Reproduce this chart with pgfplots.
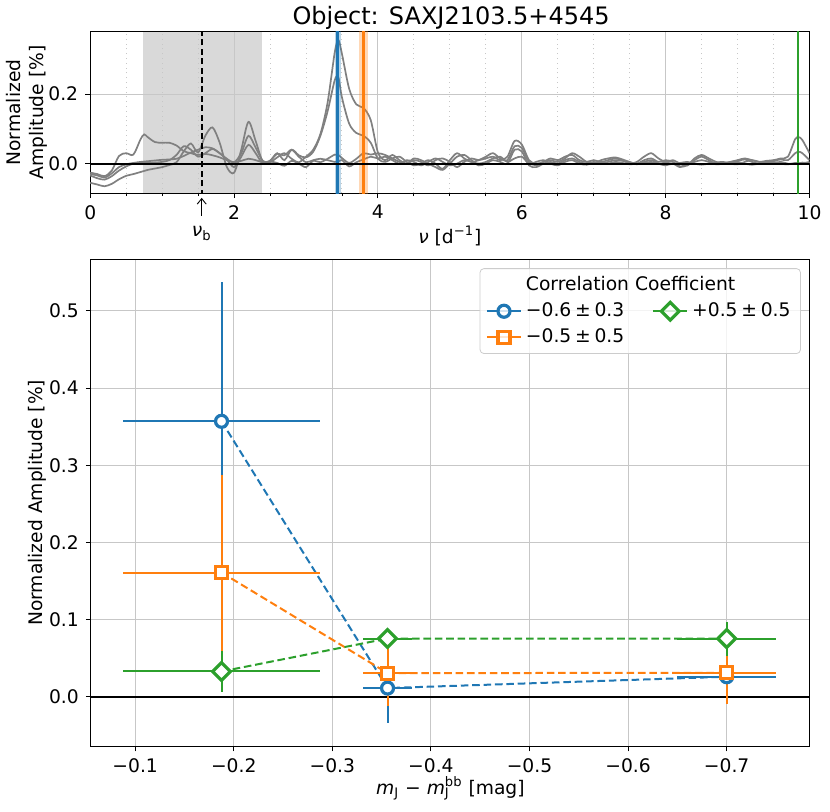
\documentclass[border=0pt]{standalone}
\usepackage{fontspec}
\setmainfont{DejaVu Sans}
\usepackage{pgfplots}
\pgfplotsset{compat=1.18}
\usepackage{pgfplotstable}
\usetikzlibrary{arrows.meta}
\definecolor{tabblue}{HTML}{1F77B4}
\definecolor{taborange}{HTML}{FF7F0E}
\definecolor{tabgreen}{HTML}{2CA02C}

\pgfplotstableread{
x A B C D
0.0 -0.030 -0.026 -0.055 -0.034
0.1 -0.034 -0.030 -0.060 -0.042
0.2 -0.040 -0.036 -0.065 -0.046
0.3 -0.028 -0.020 -0.058 -0.036
0.4 -0.010 0.022 -0.045 -0.020
0.5 -0.002 0.030 -0.035 -0.008
0.6 0.002 0.026 -0.030 0.000
0.7 0.005 0.070 -0.024 0.002
0.75 0.006 0.084 -0.021 0.002
0.8 0.007 0.076 -0.018 0.003
0.9 0.009 0.062 -0.014 0.003
1.0 0.011 0.060 -0.010 0.005
1.1 0.012 0.060 -0.004 0.010
1.2 0.014 0.052 0.004 0.025
1.3 0.022 0.036 0.035 0.050
1.4 0.032 0.030 0.058 0.040
1.5 0.040 0.025 0.032 0.020
1.6 0.047 0.028 0.080 0.030
1.7 0.044 0.024 0.104 0.042
1.8 0.030 0.018 0.060 0.030
1.9 0.014 0.010 -0.010 0.012
2.0 0.004 0.004 -0.026 -0.010
2.1 0.030 0.008 0.040 0.020
2.2 0.080 0.014 0.120 0.054
2.3 0.046 0.010 0.065 0.030
2.4 0.008 0.004 0.005 0.000
2.5 0.004 0.008 0.006 0.008
2.6 0.018 0.030 0.002 0.028
2.7 0.030 0.010 -0.006 0.024
2.8 0.014 0.040 0.008 0.040
2.9 0.004 0.024 0.000 0.020
3.0 0.020 0.018 -0.010 0.004
3.1 0.040 0.034 0.008 0.010
3.2 0.085 0.080 0.004 0.014
3.3 0.175 0.150 0.014 0.010
3.4 0.320 0.240 0.026 0.005
3.45 0.355 0.248 0.025 0.006
3.5 0.315 0.190 0.016 0.010
3.6 0.215 0.115 0.002 -0.008
3.7 0.170 0.088 0.014 0.004
3.8 0.160 0.080 0.030 0.012
3.9 0.125 0.060 0.026 0.020
4.0 0.032 0.014 0.030 0.015
4.1 0.010 0.005 0.025 0.020
4.2 0.025 0.015 0.015 0.010
4.3 0.010 0.020 0.005 0.000
4.4 0.000 0.005 0.000 0.010
4.5 0.010 -0.005 0.015 0.005
4.6 0.005 0.000 0.010 -0.005
4.7 -0.005 0.010 0.000 0.005
4.8 0.010 0.000 -0.010 0.015
4.9 0.015 -0.015 -0.018 0.005
5.0 0.005 0.010 0.000 -0.005
5.1 -0.010 0.030 0.020 0.000
5.2 0.005 0.015 0.025 0.010
5.3 0.015 0.005 0.010 0.005
5.4 0.010 0.010 -0.005 0.000
5.5 0.015 0.020 0.000 0.005
5.6 0.020 0.030 0.010 0.015
5.7 0.010 0.015 0.005 0.020
5.8 0.020 0.010 0.000 0.005
5.9 0.065 0.050 0.040 0.015
6.0 0.055 0.045 0.035 0.020
6.1 0.010 0.005 -0.005 0.000
6.2 0.000 -0.005 -0.010 0.005
6.3 0.005 0.005 0.000 0.010
6.4 0.015 0.010 0.005 0.000
6.5 0.010 0.005 0.000 -0.005
6.6 0.020 0.015 0.010 0.005
6.7 0.025 0.030 0.015 0.010
6.8 0.010 0.020 0.005 0.000
6.9 0.005 0.005 0.000 -0.003
7.0 0.010 0.000 0.005 0.002
7.1 0.005 0.010 0.000 0.005
7.2 0.010 0.015 0.005 0.000
7.3 0.015 0.018 0.010 0.005
7.4 0.010 0.012 0.008 0.002
7.5 0.000 0.005 0.003 -0.002
7.6 0.005 0.000 -0.002 0.000
7.7 0.020 0.010 0.005 0.002
7.8 0.030 0.015 0.010 0.005
7.9 0.015 0.005 0.000 0.000
8.0 0.005 0.010 -0.005 0.003
8.1 0.010 0.005 0.000 0.000
8.2 0.000 -0.008 -0.010 0.002
8.3 -0.005 -0.005 0.000 0.005
8.4 0.010 0.015 0.005 0.000
8.5 0.020 0.025 0.010 -0.003
8.6 0.010 0.015 0.005 0.000
8.7 0.000 0.005 -0.002 0.003
8.8 0.002 0.000 0.000 0.005
8.9 0.005 0.005 0.002 0.000
9.0 0.010 0.008 0.005 -0.002
9.1 0.015 0.012 0.000 0.005
9.2 0.010 0.005 -0.003 0.010
9.3 0.005 0.000 0.000 0.005
9.4 0.008 0.005 0.003 0.000
9.5 0.010 0.008 0.005 0.002
9.6 0.015 0.012 0.000 0.005
9.7 0.020 0.010 -0.002 0.000
9.8 0.070 0.030 0.002 0.000
9.85 0.076 0.034 0.001 0.001
9.9 0.068 0.030 0.000 0.003
10.0 0.030 0.010 0.005 0.002
}\curves

\pgfplotstableread{
x y ex ey
-0.1876 0.357 0.1 0.181
-0.356 0.0113 0.025 0.045
-0.700 0.026 0.05 0.004
}\blueser
\pgfplotstableread{
x y ex ey
-0.1876 0.161 0.1 0.127
-0.356 0.0307 0.025 0.043
-0.700 0.031 0.05 0.040
}\orangeser
\pgfplotstableread{
x y ex ey
-0.1876 0.0328 0.1 0.027
-0.356 0.0755 0.025 0.008
-0.700 0.0755 0.05 0.022
}\greenser

\begin{document}
\begin{tikzpicture}[font=\fontsize{9.35}{11.2}\selectfont]
\path (0,0) rectangle (415pt,406pt);
\node[anchor=base, font=\fontsize{12}{14}\selectfont] at (225.5pt,393.5pt) {Object: SAXJ2103.5+4545};

\begin{axis}[
  set layers,
  at={(45pt,309.35pt)}, anchor=south west, scale only axis,
  width=359.75pt, height=80.8pt,
  xmin=0, xmax=10, ymin=-0.085, ymax=0.379,
  xtick={0,2,4,6,8,10}, xticklabels={0,2,4,6,8,10},
  minor x tick num=3,
  ytick={0,0.2}, yticklabels={0.0,0.2},
  xmajorgrids, xminorgrids, ymajorgrids,
  major grid style={black!22, line width=0.5pt},
  minor grid style={black!22, dotted, line width=0.5pt},
  tick align=outside, tick pos=left,
  major tick length=2.5pt, minor tick length=1.4pt,
  every tick/.style={black, line width=0.45pt},
  axis line style={line width=0.45pt},
  xlabel={{\itshape ν} [d\textsuperscript{−1}]},
  xlabel style={at={(axis description cs:0.5,-0.264)}, anchor=center},
  ylabel={Normalized\\Amplitude [\%]},
  ylabel style={align=center, at={(axis description cs:-0.088,0.5)}, anchor=center},
]
\addplot[on layer=axis background, draw=none, fill=gray!30] coordinates {(0.73,-0.085) (2.385,-0.085) (2.385,0.379) (0.73,0.379)} -- cycle;
\addplot[gray, line width=0.85pt, smooth, tension=0.5] table[x=x,y=A] {\curves};
\addplot[gray, line width=0.85pt, smooth, tension=0.5] table[x=x,y=B] {\curves};
\addplot[gray, line width=0.85pt, smooth, tension=0.5] table[x=x,y=C] {\curves};
\addplot[gray, line width=0.85pt, smooth, tension=0.5] table[x=x,y=D] {\curves};
\addplot[draw=none, fill=tabblue, fill opacity=0.3] coordinates {(3.40,-0.2) (3.48,-0.2) (3.48,0.5) (3.40,0.5)} -- cycle;
\addplot[draw=none, fill=taborange, fill opacity=0.3] coordinates {(3.735,-0.2) (3.865,-0.2) (3.865,0.5) (3.735,0.5)} -- cycle;
\addplot[tabblue, line width=1.35pt] coordinates {(3.44,-0.2) (3.44,0.5)};
\addplot[taborange, line width=1.35pt] coordinates {(3.80,-0.2) (3.80,0.5)};
\addplot[tabgreen, line width=1.2pt] coordinates {(9.84,-0.2) (9.84,0.5)};
\addplot[black, line width=1.2pt, dash pattern=on 3pt off 1.7pt] coordinates {(1.55,-0.2) (1.55,0.5)};
\addplot[black, line width=1pt] coordinates {(-1,0) (11,0)};
\coordinate (nub) at (axis cs:1.55,-0.085);
\end{axis}
\draw[-{Straight Barb[length=2.8pt,width=4.5pt]}, line width=0.45pt] ([yshift=-11.3pt]nub) -- ([yshift=-2.3pt]nub);
\node[anchor=center] at ([yshift=-20pt]nub) {{\itshape ν}\textsubscript{b}};

\begin{axis}[
  at={(45.35pt,32.65pt)}, anchor=south west, scale only axis,
  width=359.6pt, height=243.7pt,
  x dir=reverse,
  xmin=-0.7844, xmax=-0.0551, ymin=-0.0644, ymax=0.567,
  xtick={-0.7,-0.6,-0.5,-0.4,-0.3,-0.2,-0.1},
  xticklabels={−0.7,−0.6,−0.5,−0.4,−0.3,−0.2,−0.1},
  ytick={0,0.1,0.2,0.3,0.4,0.5},
  yticklabels={0.0,0.1,0.2,0.3,0.4,0.5},
  grid=major,
  major grid style={black!22, line width=0.5pt},
  tick align=outside, tick pos=left,
  major tick length=2.5pt,
  every tick/.style={black, line width=0.45pt},
  axis line style={line width=0.45pt},
  xlabel={{\itshape m}\textsubscript{J} − {\itshape m}\rlap{\textsubscript{J}}\textsuperscript{bb} [mag]},
  xlabel style={at={(axis description cs:0.5,-0.0868)}, anchor=center},
  ylabel={Normalized Amplitude [\%]},
  ylabel style={at={(axis description cs:-0.074,0.5)}, anchor=center},
  legend columns=2,
  legend cell align=left,
  legend image code/.code={\draw[mark repeat=2,mark phase=2,#1] plot coordinates {(0pt,0pt) (8.5pt,0pt) (17pt,0pt)};},
  legend style={
    at={(1,1)}, anchor=north east, xshift=-4.5pt, yshift=-4.5pt,
    draw=black!20, rounded corners=2pt, fill=white, fill opacity=0.8, text opacity=1,
    font=\fontsize{9.35}{11.2}\selectfont,
    /tikz/every even column/.append style={column sep=12pt},
    row sep=0.5pt,
  },
]
\addplot[black, line width=1pt, forget plot] coordinates {(-1,0) (0,0)};

\addplot[tabblue, line width=1pt, dash pattern=on 3.8pt off 1.9pt, mark=none, forget plot,
  error bars/.cd, x dir=both, x explicit, y dir=both, y explicit, error mark=none,
  error bar style={solid, line width=1pt}]
  table[x=x, y=y, x error=ex, y error=ey] {\blueser};
\addplot[tabblue, only marks, mark=*, mark size=3.0pt, mark options={fill=white, line width=1.6pt, solid}, forget plot]
  table[x=x, y=y] {\blueser};

\addplot[taborange, line width=1pt, dash pattern=on 3.8pt off 1.9pt, mark=none, forget plot,
  error bars/.cd, x dir=both, x explicit, y dir=both, y explicit, error mark=none,
  error bar style={solid, line width=1pt}]
  table[x=x, y=y, x error=ex, y error=ey] {\orangeser};
\addplot[taborange, only marks, mark=square*, mark size=3.0pt, mark options={fill=white, line width=1.6pt, solid}, forget plot]
  table[x=x, y=y] {\orangeser};

\addplot[tabgreen, line width=1pt, dash pattern=on 3.8pt off 1.9pt, mark=none, forget plot,
  error bars/.cd, x dir=both, x explicit, y dir=both, y explicit, error mark=none,
  error bar style={solid, line width=1pt}]
  table[x=x, y=y, x error=ex, y error=ey] {\greenser};
\addplot[tabgreen, only marks, mark=square*, mark size=3.15pt, mark options={fill=white, line width=1.6pt, solid, rotate=45}, forget plot]
  table[x=x, y=y] {\greenser};

\addlegendimage{empty legend}
\addlegendentry{\makebox[0pt][l]{Correlation Coefficient}}
\addlegendimage{empty legend}
\addlegendentry{}
\addlegendimage{tabblue, line width=1pt, mark=*, mark size=3.0pt, mark options={fill=white, line width=1.6pt}}
\addlegendentry{−0.6\hspace{0.2em}±\hspace{0.2em}0.3}
\addlegendimage{tabgreen, line width=1pt, mark=square*, mark size=3.15pt, mark options={fill=white, line width=1.6pt, rotate=45}}
\addlegendentry{+0.5\hspace{0.2em}±\hspace{0.2em}0.5}
\addlegendimage{taborange, line width=1pt, mark=square*, mark size=3.0pt, mark options={fill=white, line width=1.6pt}}
\addlegendentry{−0.5\hspace{0.2em}±\hspace{0.2em}0.5}
\end{axis}
\end{tikzpicture}
\end{document}
